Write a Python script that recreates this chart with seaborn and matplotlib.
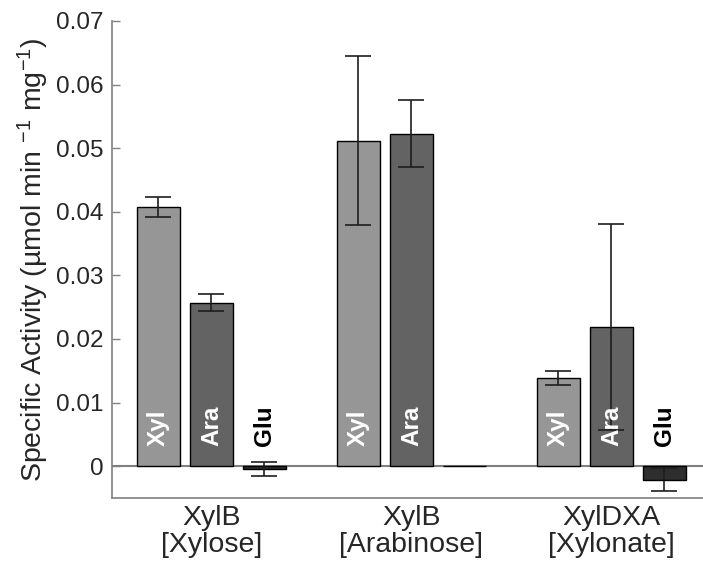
import numpy as np
import pandas as pd
import matplotlib
matplotlib.use("Agg")
import matplotlib.pyplot as plt
import seaborn as sns

# ---- data ----
groups = ["XylB\n[Xylose]", "XylB\n[Arabinose]", "XylDXA\n[Xylonate]"]
sugars = ["Xyl", "Ara", "Glu"]
xyl_vals = [0.0408, 0.0512, 0.0138]
ara_vals = [0.0257, 0.0523, 0.0219]
glu_vals = [-0.00045, 0.0, -0.00215]
xyl_err = [0.0016, 0.0133, 0.0011]
ara_err = [0.0013, 0.0053, 0.0162]
glu_err = [0.00115, 0.0, 0.0018]
y_ticks = [0, 0.01, 0.02, 0.03, 0.04, 0.05, 0.06, 0.07]
y_tick_labels = ["0", "0.01", "0.02", "0.03", "0.04", "0.05", "0.06", "0.07"]

colors = {"Xyl": "#969696", "Ara": "#636363", "Glu": "#2e2e2e"}
label_colors = {"Xyl": "white", "Ara": "white", "Glu": "black"}

df = pd.DataFrame({
    "group": np.repeat(groups, 3),
    "sugar": sugars * len(groups),
    "value": np.ravel(np.column_stack([xyl_vals, ara_vals, glu_vals])),
})

sns.set_style("white")
plt.rcParams["font.family"] = ["Liberation Sans", "DejaVu Sans"]
plt.rcParams["mathtext.fontset"] = "custom"
plt.rcParams["mathtext.rm"] = "Liberation Sans"
plt.rcParams["mathtext.it"] = "Liberation Sans:italic"
plt.rcParams["mathtext.bf"] = "Liberation Sans:bold"

FS = 17.5
FL = 20.5
fig = plt.figure(figsize=(7.03, 5.61), dpi=100)
ax = fig.add_axes([0.1593, 0.1123, 0.8407, 0.8503])

sns.barplot(data=df, x="group", y="value", hue="sugar", hue_order=sugars,
            order=groups, palette=colors, width=0.795, gap=0.19,
            edgecolor="black", linewidth=1.0, errorbar=None, legend=False,
            ax=ax, zorder=2, saturation=1)

ax.axhline(0, color="#808080", lw=1.5, zorder=1)

errs = {"Xyl": xyl_err, "Ara": ara_err, "Glu": glu_err}
for cont, s in zip(ax.containers, sugars):
    for patch, e in zip(cont.patches, errs[s]):
        cx = patch.get_x() + patch.get_width() / 2
        v = patch.get_y() + patch.get_height()
        if e > 0:
            ax.errorbar(cx, v, yerr=e,
                        fmt="none", ecolor="#1e1e1e", elinewidth=1.2,
                        capsize=9.3, capthick=1.2, zorder=3)
        if patch.get_height() != 0:
            ax.text(cx, 0.0031, s, rotation=90, ha="center", va="bottom",
                    fontsize=FS, fontweight="bold", color=label_colors[s],
                    zorder=4)

ax.set_xlim(-0.4975, 2.4575)
ax.set_ylim(-0.005, 0.07)
ax.set_yticks(y_ticks)
ax.set_yticklabels(y_tick_labels, fontsize=FS, color="#262626")
ax.set_xticks(range(len(groups)))
ax.set_xticklabels(groups, fontsize=FL, color="#262626", linespacing=1.05)
ax.tick_params(axis="y", direction="in", length=6, width=1, color="#808080",
               left=True, pad=6)
ax.tick_params(axis="x", length=0, pad=5)
ax.set_xlabel("")
ax.set_ylabel("Specific Activity (µmol min $^{-1}$ mg$^{-1}$)",
              fontsize=FL, color="#262626", labelpad=4)

for side in ["top", "right"]:
    ax.spines[side].set_visible(False)
for side in ["left", "bottom"]:
    ax.spines[side].set_color("#808080")
    ax.spines[side].set_linewidth(1.2)

fig.savefig("out.png", dpi=100)
